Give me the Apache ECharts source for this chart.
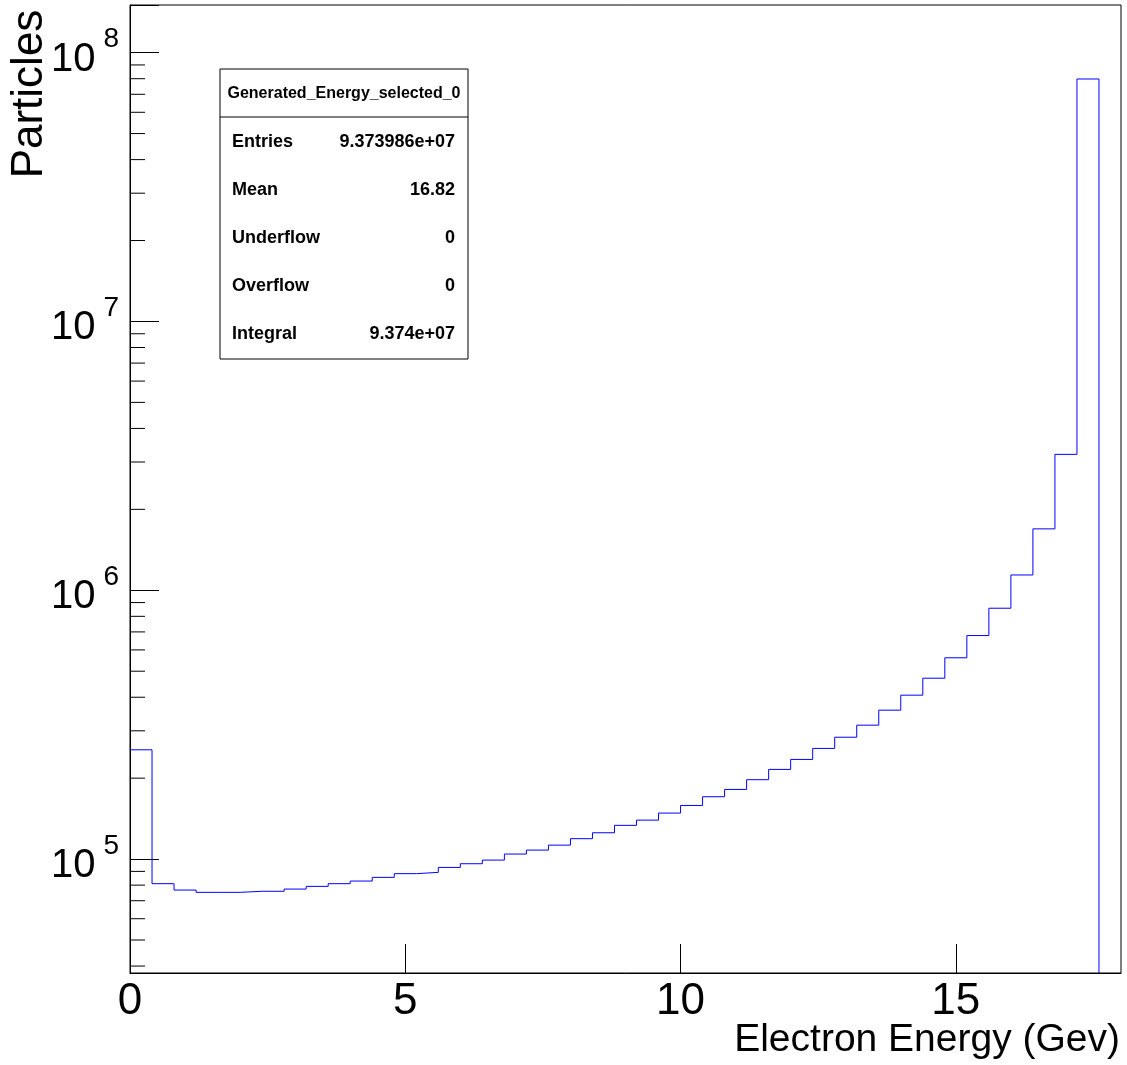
<!DOCTYPE html>
<html>
<head>
<meta charset="utf-8">
<style>
html,body{margin:0;padding:0;background:#fff;}
#chart{width:1127px;height:1065px;}
</style>
<script src="https://cdn.jsdelivr.net/npm/echarts@6/dist/echarts.min.js"></script>
</head>
<body>
<div id="chart"></div>
<script>
// ---- data ----
const binLow = 0;
const binWidth = 0.4;
const counts = [
  255000, 81000, 76700, 75200, 75200, 75900, 75900, 77350, 79150, 81000,
  82850, 85500, 88260, 89230, 93100, 96100, 99150, 104400, 108000, 112700,
  119100, 125300, 133500, 139600, 148300, 158300, 170600, 181600, 197400, 215600,
  234800, 258000, 284000, 314900, 358100, 407200, 470800, 560800, 678500, 857500,
  1140000, 1692000, 3203000, 79800000
];
const xRange = [0, 18];
const xMajorTicks = [0, 5, 10, 15];
const yRange = [37690, 1.504e8];
const yMinorTicks = [
  40000, 50000, 60000, 70000, 80000, 90000,
  200000, 300000, 400000, 500000, 600000, 700000, 800000, 900000,
  2000000, 3000000, 4000000, 5000000, 6000000, 7000000, 8000000, 9000000,
  20000000, 30000000, 40000000, 50000000, 60000000, 70000000, 80000000, 90000000
];
const statsTitle = 'Generated_Energy_selected_0';
const statsRows = [
  ['Entries', '9.373986e+07'],
  ['Mean', '16.82'],
  ['Underflow', '0'],
  ['Overflow', '0'],
  ['Integral', '9.374e+07']
];
const xTitle = 'Electron Energy (Gev)';
const yTitle = 'Particles';

// ---- build the step outline ----
const n = counts.length;
const stepData = [];
counts.forEach((c, i) => stepData.push([binLow + i * binWidth, c]));
stepData.push([binLow + n * binWidth, counts[n - 1]]);
stepData.push([binLow + n * binWidth, yRange[0]]);

const FONT = "'Liberation Sans', Arial, Helvetica, sans-serif";

const chart = echarts.init(document.getElementById('chart'), null, {renderer: 'canvas'});

// stats box graphic
const boxX = 220, boxY = 69, boxW = 248, boxH = 290, headH = 48;
const statsChildren = [
  {type: 'rect', shape: {x: boxX, y: boxY, width: boxW, height: boxH},
   style: {fill: '#fff', stroke: '#000', lineWidth: 1}},
  {type: 'line', shape: {x1: boxX, y1: boxY + headH, x2: boxX + boxW, y2: boxY + headH},
   style: {stroke: '#000', lineWidth: 1}},
  {type: 'text', x: boxX + boxW / 2, y: boxY + headH / 2 + 0.5,
   style: {text: statsTitle, fontFamily: FONT, fontWeight: 'bold', fontSize: 16,
           fill: '#000', align: 'center', verticalAlign: 'middle'}}
];
statsRows.forEach((r, i) => {
  const cy = 142.5 + i * 47.8;
  statsChildren.push({type: 'text', x: 232, y: cy,
    style: {text: r[0], fontFamily: FONT, fontWeight: 'bold', fontSize: 18, fill: '#000',
            align: 'left', verticalAlign: 'middle'}});
  statsChildren.push({type: 'text', x: 455, y: cy,
    style: {text: r[1], fontFamily: FONT, fontWeight: 'bold', fontSize: 18, fill: '#000',
            align: 'right', verticalAlign: 'middle'}});
});

const option = {
  animation: false,
  backgroundColor: '#fff',
  grid: {left: 130, right: 6, top: 5, bottom: 92, show: true,
         borderColor: '#000', borderWidth: 1, backgroundColor: 'transparent'},
  xAxis: {
    type: 'value', min: xRange[0], max: xRange[1], interval: 5,
    axisLine: {show: true, onZero: false, lineStyle: {color: '#000', width: 1}},
    axisTick: {show: true, inside: true, length: 29, lineStyle: {color: '#000', width: 1},
               customValues: xMajorTicks},
    axisLabel: {show: true, margin: 7, fontSize: 44, fontFamily: FONT, color: '#000',
                customValues: xMajorTicks,
                formatter: v => (xMajorTicks.indexOf(v) >= 0 ? String(v) : '')},
    splitLine: {show: false}
  },
  yAxis: {
    type: 'log', logBase: 10, min: yRange[0], max: yRange[1],
    axisLine: {show: true, lineStyle: {color: '#000', width: 1}},
    axisTick: {show: true, inside: true, length: 29, lineStyle: {color: '#000', width: 1}},
    axisLabel: {
      show: true, margin: 11, color: '#000',
      formatter: v => {
        const e = Math.log10(v);
        const r = Math.round(e);
        if (Math.abs(e - r) > 1e-6) return '';
        return '{b|10}{s|' + r + '}';
      },
      rich: {
        b: {fontSize: 40, fontFamily: FONT, color: '#000', lineHeight: 54, verticalAlign: 'bottom'},
        s: {fontSize: 28, fontFamily: FONT, color: '#000', lineHeight: 28, verticalAlign: 'top',
            padding: [0, 0, 0, 8]}
      }
    },
    splitLine: {show: false}
  },
  series: [
    {
      type: 'line', step: 'end', showSymbol: false, symbol: 'none',
      data: stepData, clip: true,
      lineStyle: {color: '#0000ff', width: 1},
      itemStyle: {color: '#0000ff'},
      emphasis: {disabled: true}
    },
    {
      type: 'custom', silent: true, clip: true,
      data: yMinorTicks.map(v => [xRange[0], v]),
      renderItem: (params, api) => {
        const p = api.coord([api.value(0), api.value(1)]);
        return {type: 'line', shape: {x1: p[0], y1: p[1], x2: p[0] + 15, y2: p[1]},
                style: {stroke: '#000', lineWidth: 1}};
      }
    }
  ],
  graphic: [
    {type: 'group', children: statsChildren},
    {type: 'text', x: 1120, y: 1040,
     style: {text: xTitle, fontFamily: FONT, fontSize: 39, fill: '#000',
             align: 'right', verticalAlign: 'middle'}},
    {type: 'text', x: 30, y: 94, rotation: Math.PI / 2,
     style: {text: yTitle, fontFamily: FONT, fontSize: 44, fill: '#000',
             align: 'center', verticalAlign: 'middle'}}
  ]
};
chart.setOption(option);
</script>
</body>
</html>
